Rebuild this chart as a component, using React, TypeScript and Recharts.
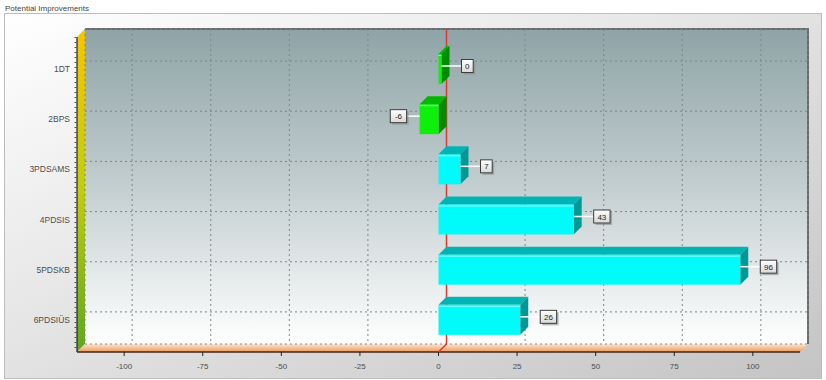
import React from 'react';
import { BarChart, Bar, XAxis, YAxis, CartesianGrid, ReferenceLine } from 'recharts';

// chart values
const categories = ['1DT', '2BPS', '3PDSAMS', '4PDSIS', '5PDSKB', '6PDSIÜS'];
const improvements = [0, -6, 7, 43, 96, 26];
const valueTicks = [-100, -75, -50, -25, 0, 25, 50, 75, 100];
const minorTicks = [
  -110, -105, -100, -95, -90, -85, -80, -75, -70, -65, -60, -55, -50, -45, -40, -35, -30, -25, -20, -15, -10, -5,
  0, 5, 10, 15, 20, 25, 30, 35, 40, 45, 50, 55, 60, 65, 70, 75, 80, 85, 90, 95, 100, 105, 110,
];

const rows = categories.map((name, i) => ({ name, value: improvements[i] }));

// layout (the library plot area is the back wall of the pseudo-3D box)
const W = 826;
const H = 380;
const DEPTH = 8;
const MARGIN = { top: 29, right: 18, bottom: 0, left: 0 };
const Y_AXIS_W = 85;
const X_AXIS_H = 35;
const MINOR_H = 1;
const PLOT_L = MARGIN.left + Y_AXIS_W;
const PLOT_R = W - MARGIN.right;
const PLOT_T = MARGIN.top;
const PLOT_B = H - MARGIN.bottom - X_AXIS_H - MINOR_H;

const FONT = '"Liberation Sans", Arial, sans-serif';

const CYAN = { front: '#00fbfb', top: '#00b4b4', side: '#009797', edge: '#7ffefe' };
const GREEN = { front: '#0cf00c', top: '#00b800', side: '#008c00', edge: '#8dfb8d' };

const BarShape = (p: any) => {
  const v = p.payload?.value ?? p.value;
  const left = Math.min(p.x, p.x + p.width);
  const right = Math.max(p.x, p.x + p.width);
  const top = Math.min(p.y, p.y + p.height);
  const h = Math.abs(p.height);
  const c = v <= 0 ? GREEN : CYAN;
  const fl = left - DEPTH;
  const fr = right - DEPTH;
  const ft = top + DEPTH;
  const fb = top + h + DEPTH;

  const text = String(v);
  const bw = 7 + text.length * 4.7;
  const bh = 13;
  const cy = ft + h / 2 - 3;
  const bx = v < 0 ? fl - 13 - bw : right + 12;
  const lx1 = v < 0 ? bx + bw : fr;
  const lx2 = v < 0 ? fl : bx;

  return (
    <g>
      <path d={`M${fl},${ft} L${left},${top} L${right},${top} L${fr},${ft} Z`} fill={c.top} />
      <path d={`M${fr},${ft} L${right},${top} L${right},${top + h} L${fr},${fb} Z`} fill={c.side} />
      <rect x={fl} y={ft} width={right - left} height={h} fill={c.front} />
      <line x1={fl} x2={fr} y1={ft + 1.5} y2={ft + 1.5} stroke={c.edge} strokeWidth={1} />
      <line x1={lx1} x2={lx2} y1={cy} y2={cy} stroke="#ffffff" strokeWidth={1.5} />
      <rect x={bx + 2} y={cy - bh / 2 + 2} width={bw} height={bh} fill="#8a8a8a" opacity={0.6} />
      <rect x={bx} y={cy - bh / 2} width={bw} height={bh} fill="url(#labelBox)" stroke="#3c3c3c" strokeWidth={1} />
      <text x={bx + bw / 2} y={cy + 0.5} textAnchor="middle" dominantBaseline="central" fontSize={8} fontFamily={FONT} fill="#222">
        {text}
      </text>
    </g>
  );
};

const ZeroLine = (p: any) => {
  const top = Math.min(p.y1, p.y2);
  const bottom = Math.max(p.y1, p.y2);
  return (
    <path
      d={`M${p.x1},${top} L${p.x1},${bottom} L${p.x1 - DEPTH},${bottom + DEPTH}`}
      stroke="#e2372c"
      strokeWidth={1.5}
      fill="none"
    />
  );
};

const CategoryTick = (p: any) => (
  <text
    x={PLOT_L - DEPTH - 7}
    y={p.y + DEPTH}
    textAnchor="end"
    dominantBaseline="central"
    fontSize={8.5}
    fontFamily={FONT}
    fill="#4d4d4d"
  >
    {p.payload.value}
  </text>
);

const ValueTick = (p: any) => (
  <g>
    <line x1={p.x - DEPTH} x2={p.x - DEPTH} y1={PLOT_B + DEPTH} y2={PLOT_B + DEPTH + 4} stroke="#222" />
    <text
      x={p.x - DEPTH}
      y={PLOT_B + DEPTH + 14}
      textAnchor="middle"
      dominantBaseline="central"
      fontSize={8}
      fontFamily={FONT}
      fill="#4d4d4d"
    >
      {p.payload.value}
    </text>
  </g>
);

const MinorTick = (p: any) => (
  <line x1={p.x - DEPTH} x2={p.x - DEPTH} y1={PLOT_B + DEPTH} y2={PLOT_B + DEPTH + 3} stroke="#333" />
);

export default function App() {
  return (
    <div style={{ position: 'absolute', left: 0, top: 0, width: W, height: H, overflow: 'hidden', background: '#fff' }}>
      <svg width={W} height={H} style={{ position: 'absolute', left: 0, top: 0 }}>
        <defs>
          <linearGradient id="panelBg" x1="0" y1="0" x2="1" y2="1">
            <stop offset="0%" stopColor="#ffffff" />
            <stop offset="100%" stopColor="#c4c4c4" />
          </linearGradient>
          <linearGradient id="backWall" x1="0" y1="0" x2="0" y2="1">
            <stop offset="0%" stopColor="#8fa4a7" />
            <stop offset="50%" stopColor="#c3ced0" />
            <stop offset="100%" stopColor="#ffffff" />
          </linearGradient>
          <linearGradient id="leftWall" x1="0" y1="0" x2="0" y2="1">
            <stop offset="0%" stopColor="#f4c600" />
            <stop offset="50%" stopColor="#c2cc12" />
            <stop offset="100%" stopColor="#5ea720" />
          </linearGradient>
          <linearGradient id="floor" x1="0" y1="0" x2="0" y2="1">
            <stop offset="0%" stopColor="#fde6d2" />
            <stop offset="100%" stopColor="#ee9a5c" />
          </linearGradient>
        </defs>
        <text x={5} y={8} dominantBaseline="central" fontSize={8} fontFamily={FONT} fill="#444">
          Potential Improvements
        </text>
        <rect x={4.5} y={13.5} width={W - 9} height={H - 15} fill="url(#panelBg)" stroke="#bdbdbd" />
        <rect x={PLOT_L} y={PLOT_T} width={PLOT_R - PLOT_L} height={PLOT_B - PLOT_T} fill="url(#backWall)" />
        <path
          d={`M${PLOT_L},${PLOT_T} L${PLOT_R},${PLOT_T} L${PLOT_R},${PLOT_B}`}
          stroke="#6a6a6a"
          strokeWidth={2}
          fill="none"
        />
        <path
          d={`M${PLOT_L},${PLOT_T} L${PLOT_L - DEPTH},${PLOT_T + DEPTH} L${PLOT_L - DEPTH},${PLOT_B + DEPTH} L${PLOT_L},${PLOT_B} Z`}
          fill="url(#leftWall)"
        />
        <path
          d={`M${PLOT_L},${PLOT_B} L${PLOT_R},${PLOT_B} L${PLOT_R - DEPTH},${PLOT_B + DEPTH} L${PLOT_L - DEPTH},${PLOT_B + DEPTH} Z`}
          fill="url(#floor)"
        />
        <line x1={PLOT_L - DEPTH} x2={PLOT_L - DEPTH} y1={PLOT_T + DEPTH} y2={PLOT_B + DEPTH} stroke="#222" strokeWidth={1.2} />
        <line
          x1={PLOT_L - DEPTH - 1.5}
          x2={PLOT_L - DEPTH - 1.5}
          y1={PLOT_T + DEPTH}
          y2={PLOT_B + DEPTH}
          stroke="#555"
          strokeWidth={2}
          strokeDasharray="1 4"
        />
        <line x1={PLOT_L - DEPTH} x2={PLOT_R - DEPTH} y1={PLOT_B + DEPTH} y2={PLOT_B + DEPTH} stroke="#4a2418" strokeWidth={1.5} />
      </svg>
      <div style={{ position: 'absolute', left: 0, top: 0 }}>
        <BarChart width={W} height={H} layout="vertical" data={rows} margin={MARGIN} barSize={30}>
          <defs>
            <linearGradient id="labelBox" x1="0" y1="0" x2="0" y2="1">
              <stop offset="0%" stopColor="#ffffff" />
              <stop offset="100%" stopColor="#d9d9d9" />
            </linearGradient>
          </defs>
          <CartesianGrid stroke="#7c8788" strokeDasharray="2 3" />
          <XAxis
            type="number"
            dataKey="value"
            domain={[-115, 115]}
            ticks={valueTicks}
            interval={0}
            height={X_AXIS_H}
            axisLine={false}
            tickLine={false}
            tick={ValueTick}
          />
          <XAxis
            xAxisId="minor"
            type="number"
            domain={[-115, 115]}
            ticks={minorTicks}
            interval={0}
            height={MINOR_H}
            axisLine={false}
            tickLine={false}
            tick={MinorTick}
          />
          <YAxis
            type="category"
            dataKey="name"
            width={Y_AXIS_W}
            padding={{ top: 7, bottom: 7 }}
            axisLine={false}
            tickLine={false}
            interval={0}
            tick={CategoryTick}
          />
          <ReferenceLine x={0} stroke="#e2372c" zIndex={-50} shape={ZeroLine} />
          <Bar dataKey="value" minPointSize={3} shape={BarShape} isAnimationActive={false} />
        </BarChart>
      </div>
    </div>
  );
}
